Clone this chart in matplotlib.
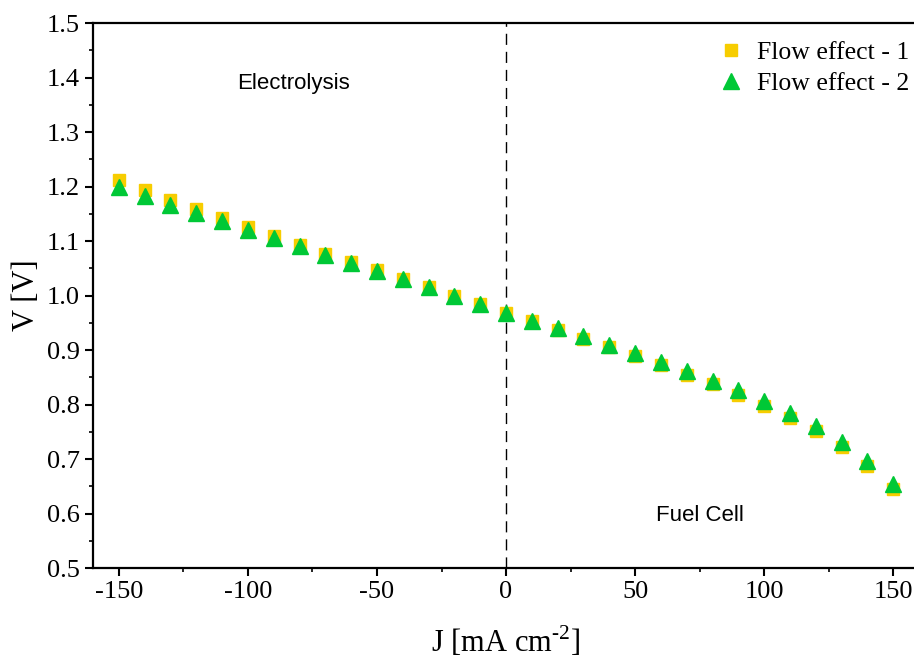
import matplotlib
matplotlib.use("Agg")
import matplotlib.pyplot as plt
from matplotlib.ticker import MultipleLocator

plt.rcParams['font.family'] = ['Liberation Serif', 'DejaVu Serif']
plt.rcParams['mathtext.fontset'] = 'custom'
plt.rcParams['mathtext.rm'] = 'Liberation Serif'

# current density steps and cell voltage for the two flow runs
current = [-150, -140, -130, -120, -110, -100, -90, -80, -70, -60, -50,
           -40, -30, -20, -10, 0, 10, 20, 30, 40, 50, 60, 70, 80, 90,
           100, 110, 120, 130, 140, 150]
flow_1 = [1.212, 1.193, 1.176, 1.159, 1.142, 1.126, 1.109, 1.093, 1.077,
          1.061, 1.046, 1.030, 1.015, 0.999, 0.984, 0.968, 0.953, 0.937,
          0.921, 0.905, 0.889, 0.872, 0.855, 0.837, 0.818, 0.798, 0.776,
          0.751, 0.722, 0.688, 0.645]
flow_2 = [1.199, 1.183, 1.167, 1.151, 1.136, 1.121, 1.106, 1.091, 1.075,
          1.060, 1.045, 1.030, 1.015, 0.999, 0.984, 0.968, 0.954, 0.940,
          0.925, 0.910, 0.894, 0.878, 0.862, 0.844, 0.826, 0.806, 0.785,
          0.760, 0.731, 0.697, 0.655]

fig = plt.figure(figsize=(9.14, 6.59), dpi=100)
ax = fig.add_axes([0.1018, 0.138, 0.9037, 0.827])

ax.plot(current, flow_1, linestyle='none', marker='s', ms=8.6,
        color='#F7CD00', mec='#F7CD00', label='Flow effect - 1')
ax.plot(current, flow_2, linestyle='none', marker='^', ms=11.5,
        color='#00C836', mec='#00C836', label='Flow effect - 2')

ax.axvline(0, color='black', lw=1.0, ls=(0, (8, 5)), zorder=0)

ax.text(-82.5, 1.39, 'Electrolysis', family='Liberation Sans', fontsize=16,
        ha='center', va='center')
ax.text(75, 0.597, 'Fuel Cell', family='Liberation Sans', fontsize=16,
        ha='center', va='center')

ax.set_xlim(-160, 160)
ax.set_ylim(0.5, 1.5)
ax.xaxis.set_major_locator(MultipleLocator(50))
ax.xaxis.set_minor_locator(MultipleLocator(25))
ax.yaxis.set_major_locator(MultipleLocator(0.1))
ax.yaxis.set_minor_locator(MultipleLocator(0.05))
ax.yaxis.set_major_formatter(plt.FormatStrFormatter('%.1f'))
ax.xaxis.set_major_formatter(plt.FuncFormatter(lambda v, p: '%d' % v))

ax.tick_params(which='major', direction='out', length=6, width=1.5,
               labelsize=19, top=False, right=False)
ax.tick_params(which='minor', direction='out', length=3, width=1.2,
               top=False, right=False)
for side in ['left', 'bottom', 'top']:
    ax.spines[side].set_linewidth(1.6)
ax.spines['right'].set_visible(False)

ax.set_xlabel('J [mA cm$^{\\text{-2}}$]', fontsize=22, labelpad=15)
ax.set_ylabel('V [V]', fontsize=22, labelpad=4)

ax.legend(loc='upper right', bbox_to_anchor=(1.007, 0.995), frameon=False,
          fontsize=18.5, handletextpad=0.5, labelspacing=0.3,
          handlelength=1.0, borderaxespad=0.2)

fig.savefig('out.png', dpi=100)
